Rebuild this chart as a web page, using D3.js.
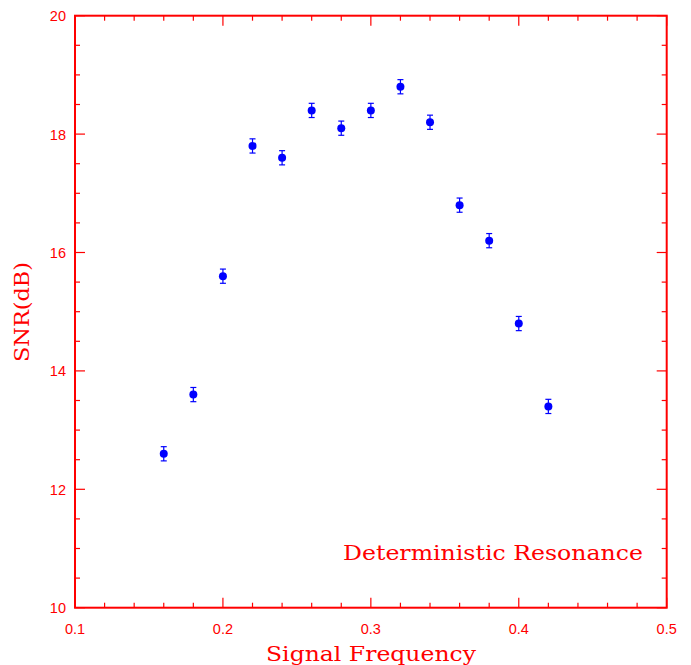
<!DOCTYPE html>
<html>
<head>
<meta charset="utf-8">
<script src="https://cdn.jsdelivr.net/npm/d3@7"></script>
<style>
  html, body { margin: 0; padding: 0; background: #fff; }
  svg { display: block; }
</style>
</head>
<body>
<svg id="chart" width="691" height="665"></svg>
<script>
// Signal frequency vs. SNR measurements
const frequency = [0.16, 0.18, 0.20, 0.22, 0.24, 0.26, 0.28, 0.30, 0.32, 0.34, 0.36, 0.38, 0.40, 0.42];
const snr       = [12.6, 13.6, 15.6, 17.8, 17.6, 18.4, 18.1, 18.4, 18.8, 18.2, 16.8, 16.2, 14.8, 13.4];
const snrError  = [0.12, 0.12, 0.12, 0.12, 0.12, 0.12, 0.12, 0.12, 0.12, 0.12, 0.12, 0.12, 0.12, 0.12];

const xMajorTicks = [0.1, 0.2, 0.3, 0.4, 0.5];
const yMajorTicks = [10, 12, 14, 16, 18, 20];
const xLabel = "Signal Frequency";
const yLabel = "SNR(dB)";
const annotation = "Deterministic Resonance";

const red = "#ff0000";
const blue = "#0000ff";
const margin = { left: 75, right: 24.3, top: 15.7, bottom: 57.3 };
const W = 691, H = 665;

const svg = d3.select("#chart");
const x = d3.scaleLinear().domain([0.1, 0.5]).range([margin.left, W - margin.right]);
const y = d3.scaleLinear().domain([10, 20]).range([H - margin.bottom, margin.top]);

const x0 = x.range()[0], x1 = x.range()[1];
const y0 = y.range()[0], y1 = y.range()[1];

const xMinor = d3.range(0.12, 0.5, 0.02).filter(v => !xMajorTicks.some(m => Math.abs(m - v) < 1e-6));
const yMinor = d3.range(10.5, 20, 0.5).filter(v => !yMajorTicks.some(m => Math.abs(m - v) < 1e-6));

const ticks = svg.append("g").attr("stroke", red).attr("stroke-width", 1.2);
// bottom & top ticks (inward)
xMajorTicks.forEach(v => {
  ticks.append("line").attr("x1", x(v)).attr("x2", x(v)).attr("y1", y0).attr("y2", y0 - 10);
  ticks.append("line").attr("x1", x(v)).attr("x2", x(v)).attr("y1", y1).attr("y2", y1 + 10);
});
xMinor.forEach(v => {
  ticks.append("line").attr("x1", x(v)).attr("x2", x(v)).attr("y1", y0).attr("y2", y0 - 5);
  ticks.append("line").attr("x1", x(v)).attr("x2", x(v)).attr("y1", y1).attr("y2", y1 + 5);
});
// left & right ticks (inward)
yMajorTicks.forEach(v => {
  ticks.append("line").attr("x1", x0).attr("x2", x0 + 10).attr("y1", y(v)).attr("y2", y(v));
  ticks.append("line").attr("x1", x1).attr("x2", x1 - 10).attr("y1", y(v)).attr("y2", y(v));
});
yMinor.forEach(v => {
  ticks.append("line").attr("x1", x0).attr("x2", x0 + 5).attr("y1", y(v)).attr("y2", y(v));
  ticks.append("line").attr("x1", x1).attr("x2", x1 - 5).attr("y1", y(v)).attr("y2", y(v));
});

// frame
svg.append("rect")
  .attr("x", x0).attr("y", y1)
  .attr("width", x1 - x0).attr("height", y0 - y1)
  .attr("fill", "none").attr("stroke", red).attr("stroke-width", 2);

// tick labels
const tickFont = "'Liberation Sans', Arial, Helvetica, sans-serif";
svg.append("g").selectAll("text").data(xMajorTicks).join("text")
  .attr("x", d => x(d)).attr("y", y0 + 26)
  .attr("text-anchor", "middle")
  .attr("font-family", tickFont).attr("font-size", 14.5).attr("fill", red)
  .text(d => d3.format(".1f")(d));

svg.append("g").selectAll("text").data(yMajorTicks).join("text")
  .attr("x", x0 - 9).attr("y", d => y(d) + 5.5)
  .attr("text-anchor", "end")
  .attr("font-family", tickFont).attr("font-size", 14.5).attr("fill", red)
  .text(d => d);

// axis titles and annotation
const serif = "'DejaVu Serif', 'Liberation Serif', serif";
svg.append("text")
  .attr("x", 371).attr("y", 661)
  .attr("text-anchor", "middle")
  .attr("font-family", serif).attr("font-size", 21).attr("fill", red)
  .attr("textLength", 210).attr("lengthAdjust", "spacingAndGlyphs")
  .text(xLabel);

svg.append("text")
  .attr("transform", "translate(29,312) rotate(-90)")
  .attr("text-anchor", "middle")
  .attr("font-family", serif).attr("font-size", 21).attr("fill", red)
  .attr("textLength", 100).attr("lengthAdjust", "spacingAndGlyphs")
  .text(yLabel);

svg.append("text")
  .attr("x", 343).attr("y", 560)
  .attr("font-family", serif).attr("font-size", 21).attr("fill", red)
  .attr("textLength", 300).attr("lengthAdjust", "spacingAndGlyphs")
  .text(annotation);

// data points with error bars
const data = frequency.map((f, i) => ({ f, s: snr[i], e: snrError[i] }));
const pts = svg.append("g").selectAll("g").data(data).join("g");
pts.append("line")
  .attr("x1", d => x(d.f)).attr("x2", d => x(d.f))
  .attr("y1", d => y(d.s - d.e)).attr("y2", d => y(d.s + d.e))
  .attr("stroke", blue).attr("stroke-width", 1.2);
pts.append("line")
  .attr("x1", d => x(d.f) - 3).attr("x2", d => x(d.f) + 3)
  .attr("y1", d => y(d.s + d.e)).attr("y2", d => y(d.s + d.e))
  .attr("stroke", blue).attr("stroke-width", 1.2);
pts.append("line")
  .attr("x1", d => x(d.f) - 3).attr("x2", d => x(d.f) + 3)
  .attr("y1", d => y(d.s - d.e)).attr("y2", d => y(d.s - d.e))
  .attr("stroke", blue).attr("stroke-width", 1.2);
pts.append("circle")
  .attr("cx", d => x(d.f)).attr("cy", d => y(d.s))
  .attr("r", 4).attr("fill", blue);
</script>
</body>
</html>
